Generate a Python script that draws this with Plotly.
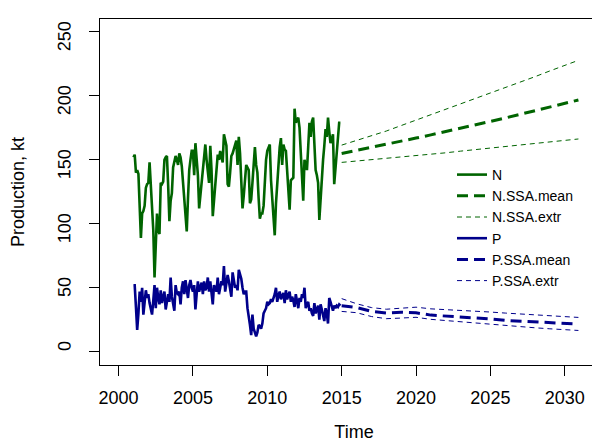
import numpy as np
import plotly.graph_objects as go

# Observed monthly production, Jan 2001 - Dec 2014 (kt)
N_obs = [152, 154, 140, 142, 139, 108, 89, 108, 110, 114, 128, 131,
         132, 148, 127, 110, 95, 58, 90, 108, 95, 92, 132, 131,
         133, 150, 152, 153, 130, 102, 118, 124, 144, 148, 153, 150,
         146, 155, 152, 145, 132, 121, 105, 94, 120, 142, 150, 157,
         157, 138, 163, 150, 138, 112, 122, 135, 145, 155, 162, 150,
         142, 132, 161, 142, 106, 118, 129, 138, 154, 150, 157, 152,
         148, 170, 165, 161, 131, 129, 140, 153, 155, 158, 161, 165,
         146, 168, 155, 130, 112, 122, 132, 146, 144, 142, 116, 119,
         132, 150, 160, 146, 140, 120, 104, 108, 108, 114, 134, 150,
         157, 160, 162, 134, 119, 100, 91, 116, 133, 150, 160, 167,
         146, 162, 158, 157, 140, 129, 111, 134, 135, 136, 190, 179,
         181, 183, 175, 153, 130, 118, 150, 146, 142, 160, 179, 168,
         180, 183, 161, 142, 138, 132, 103, 122, 140, 150, 161, 174,
         168, 183, 172, 163, 166, 170, 131, 145, 157, 168, 179, 179]

P_obs = [52, 52, 35, 17, 30, 47, 39, 50, 29, 40, 48, 42,
         45, 38, 34, 29, 40, 52, 34, 50, 42, 37, 48, 38,
         43, 47, 33, 40, 45, 39, 58, 43, 38, 32, 52, 46,
         45, 47, 37, 50, 55, 45, 56, 48, 42, 52, 56, 50,
         47, 52, 33, 45, 55, 47, 50, 54, 45, 55, 48, 50,
         58, 47, 55, 45, 37, 52, 49, 47, 58, 45, 50, 55,
         52, 67, 47, 55, 60, 55, 48, 43, 62, 55, 50, 52,
         48, 64, 60, 57, 50, 45, 47, 47, 34, 25, 21, 13,
         29, 18, 15, 12, 15, 21, 20, 18, 22, 30, 32, 34,
         39, 37, 38, 41, 39, 42, 45, 50, 39, 44, 47, 41,
         43, 46, 38, 48, 41, 44, 47, 39, 43, 40, 35, 45,
         38, 34, 42, 39, 45, 42, 50, 34, 37, 39, 32, 34,
         30, 28, 38, 30, 33, 36, 25, 37, 33, 29, 24, 34,
         30, 22, 42, 39, 35, 32, 36, 34, 36, 35, 37, 36]

months = np.arange(len(N_obs))
obs_time = 2001 + months / 12.0

# SSA forecasts
fc_time = [2015, 2016, 2017, 2018, 2019, 2020, 2021, 2022, 2023, 2024,
           2025, 2026, 2027, 2028, 2029, 2030, 2030.92]
N_mean = [155, 157.3, 159.6, 162, 164.5, 167, 169.5, 172, 174.6, 177.2,
          180, 182.7, 185.5, 188.3, 191.2, 194.1, 196.8]
N_up = [161.5, 165, 168.8, 172.5, 176.8, 181, 185, 189.2, 193.4, 197.8,
        202, 206.3, 210.7, 215, 219.5, 224, 227.8]
N_lo = [148, 149, 150, 151, 152, 153, 154.2, 155.5, 156.8, 158,
        159.3, 160.5, 161.8, 163, 164.2, 165.4, 166.3]
P_mean = [36, 34.5, 31.5, 30.3, 30.8, 30.4, 28.6, 27.9, 27.0, 26.2,
          25.6, 24.5, 23.8, 23.2, 22.6, 22.0, 21.6]
P_up = [41.5, 37.5, 34.5, 33.2, 34.0, 34.8, 33.5, 33.0, 32.5, 32.0,
        31.0, 30.2, 29.5, 28.7, 28.0, 27.3, 26.8]
P_lo = [31.5, 30.5, 27.5, 25.8, 26.3, 26.9, 25.3, 24.3, 23.2, 22.2,
        21.3, 20.4, 19.6, 18.7, 17.9, 17.0, 16.6]

x_ticks = [2000, 2005, 2010, 2015, 2020, 2025, 2030]
y_ticks = [0, 50, 100, 150, 200, 250]

GREEN = "#006400"
BLUE = "#00008B"
FONT = "Liberation Sans, Arial, sans-serif"

fig = go.Figure()
fig.add_trace(go.Scatter(x=obs_time, y=N_obs, mode="lines", name="N",
                         line=dict(color=GREEN, width=2.6)))
fig.add_trace(go.Scatter(x=fc_time, y=N_mean, mode="lines", name="N.SSA.mean",
                         line=dict(color=GREEN, width=3, dash="11px,6px")))
fig.add_trace(go.Scatter(x=fc_time, y=N_up, mode="lines", name="N.SSA.extr",
                         line=dict(color=GREEN, width=1, dash="5px,4px")))
fig.add_trace(go.Scatter(x=fc_time, y=N_lo, mode="lines", name="N.SSA.extr",
                         line=dict(color=GREEN, width=1, dash="5px,4px"),
                         showlegend=False))
fig.add_trace(go.Scatter(x=obs_time, y=P_obs, mode="lines", name="P",
                         line=dict(color=BLUE, width=2.6)))
fig.add_trace(go.Scatter(x=fc_time, y=P_mean, mode="lines", name="P.SSA.mean",
                         line=dict(color=BLUE, width=3, dash="11px,6px")))
fig.add_trace(go.Scatter(x=fc_time, y=P_up, mode="lines", name="P.SSA.extr",
                         line=dict(color=BLUE, width=1, dash="5px,4px")))
fig.add_trace(go.Scatter(x=fc_time, y=P_lo, mode="lines", name="P.SSA.extr",
                         line=dict(color=BLUE, width=1, dash="5px,4px"),
                         showlegend=False))

fig.update_layout(
    width=600, height=444,
    margin=dict(l=92, r=0, t=11, b=87),
    paper_bgcolor="white", plot_bgcolor="white",
    font=dict(family=FONT, color="black", size=18),
    showlegend=True,
    legend=dict(x=(444 - 92) / 508, y=(357 - 151) / 346, xanchor="left", yanchor="top",
                bgcolor="rgba(0,0,0,0)", font=dict(size=14, family=FONT),
                tracegroupgap=0, itemwidth=30, traceorder="normal"),
    xaxis=dict(range=[1998.75, 2032.91], tickvals=x_ticks,
               ticks="outside", ticklen=10, tickcolor="black", tickwidth=1,
               showline=True, mirror=True, linecolor="black", linewidth=1,
               showgrid=False, zeroline=False, ticklabelstandoff=6,
               tickfont=dict(size=18, family=FONT),
               title=dict(text="Time", font=dict(size=18, family=FONT), standoff=18)),
    yaxis=dict(range=[-10.4, 260.1], tickvals=y_ticks, tickangle=-89.9,
               ticks="outside", ticklen=10, tickcolor="black", tickwidth=1,
               showline=True, mirror=False, linecolor="black", linewidth=1,
               showgrid=False, zeroline=False, ticklabelstandoff=24,
               ticklabelshift=-8,
               tickfont=dict(size=18, family=FONT),
               title=dict(text="Production, kt", font=dict(size=18, family=FONT), standoff=29)),
)

fig.write_html("out.html")
